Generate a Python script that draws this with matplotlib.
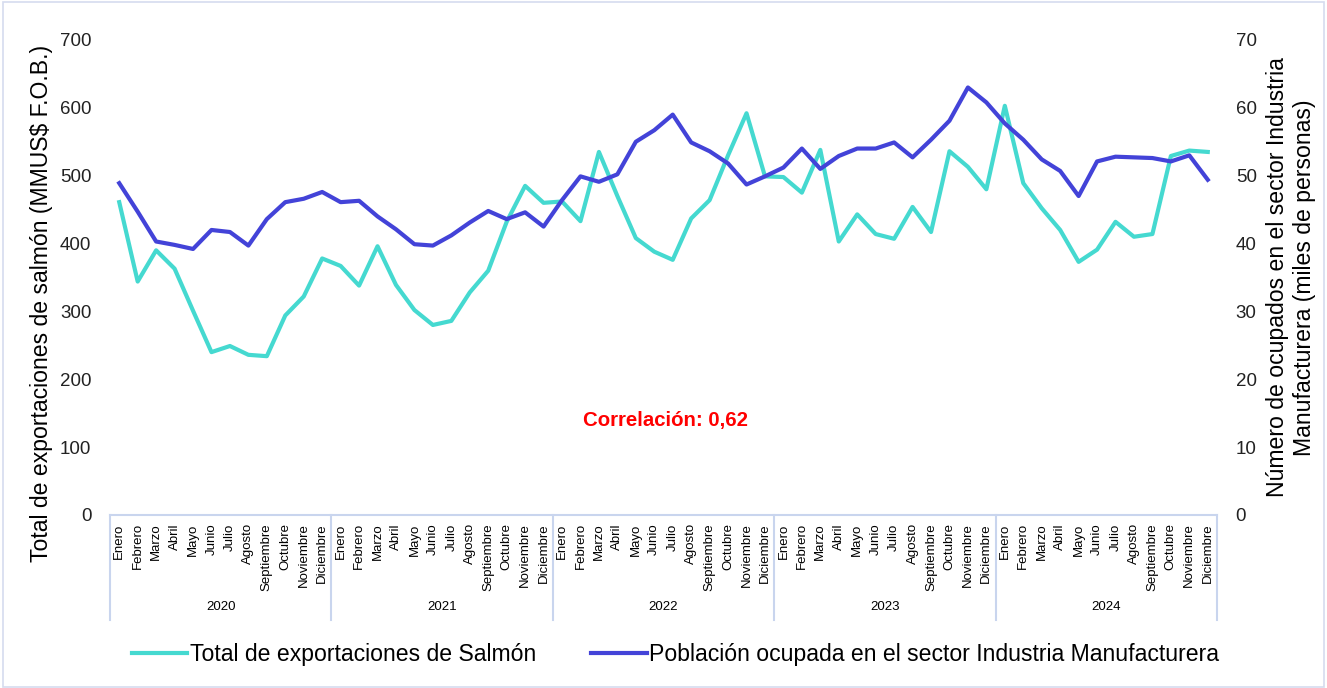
import numpy as np
import matplotlib.pyplot as plt
from matplotlib.patches import Rectangle

plt.rcParams['font.family'] = ['Liberation Sans', 'DejaVu Sans']

# Data
years = ['2020', '2021', '2022', '2023', '2024']
months = ['Enero', 'Febrero', 'Marzo', 'Abril', 'Mayo', 'Junio', 'Julio',
          'Agosto', 'Septiembre', 'Octubre', 'Noviembre', 'Diciembre']

# Total de exportaciones de Salmón (MMUS$ F.O.B.)
salmon = [461, 344, 390, 363, 301, 240, 249, 236, 234, 294, 322, 378,
          367, 338, 396, 339, 302, 280, 286, 328, 360, 432, 485, 460,
          462, 433, 535, 470, 408, 388, 376, 437, 464, 530, 592, 499,
          498, 475, 538, 403, 443, 414, 407, 454, 417, 536, 513, 480,
          603, 489, 452, 420, 373, 391, 432, 410, 414, 529, 537, 535]

# Población ocupada en Industria Manufacturera (miles de personas)
ocupados = [48.9, 44.7, 40.3, 39.8, 39.2, 42.0, 41.7, 39.7, 43.6, 46.1, 46.6, 47.6,
            46.1, 46.3, 44.0, 42.1, 39.9, 39.7, 41.2, 43.1, 44.8, 43.6, 44.6, 42.5,
            46.4, 49.9, 49.1, 50.2, 55.0, 56.7, 59.0, 54.9, 53.6, 51.8, 48.7, 49.9,
            51.2, 54.0, 51.0, 52.9, 54.0, 54.0, 54.9, 52.7, 55.3, 58.1, 63.0, 60.8,
            57.7, 55.3, 52.4, 50.7, 47.0, 52.1, 52.8, 52.7, 52.6, 52.1, 53.0, 49.4]

teal = '#45D9D0'
blue = '#4343D8'
sep_color = '#C9D5EE'

x = np.arange(len(salmon))
month_labels = months * len(years)

fig = plt.figure(figsize=(13.27, 6.88), dpi=100)
ax = fig.add_axes([0.0829, 0.2515, 0.8342, 0.6904])
ax2 = ax.twinx()

l1, = ax.plot(x, salmon, color=teal, lw=3, solid_joinstyle='round',
              label='Total de exportaciones de Salmón')
l2, = ax2.plot(x, ocupados, color=blue, lw=3, solid_joinstyle='round',
               label='Población ocupada en el sector Industria Manufacturera')

ax.set_xlim(-0.5, len(x) - 0.5)
ax.set_ylim(0, 700)
ax2.set_ylim(0, 70)
ax.set_yticks(range(0, 701, 100))
ax2.set_yticks(range(0, 71, 10))

for a in (ax, ax2):
    for s in a.spines.values():
        s.set_visible(False)
    a.tick_params(axis='y', length=0, labelsize=13.5, colors='#222222', pad=13.5)

ax.set_xticks(x)
ax.set_xticklabels(month_labels, rotation=90, fontsize=9.5, va='top')
ax.tick_params(axis='x', length=0, pad=6)

ax.set_ylabel('Total de exportaciones de salmón (MMUS\\$ F.O.B.)', fontsize=16.6)
ax.yaxis.set_label_coords(-0.0515, 0.446)
ax2.set_ylabel('Número de ocupados en el sector Industria\nManufacturera (miles de personas)',
               fontsize=16.6, labelpad=7)

# category axis box and year labels
depth = -0.221
ax.plot([0, 1], [0, 0], transform=ax.transAxes, color=sep_color, lw=1.5, clip_on=False)
trans = ax.get_xaxis_transform()
for i in range(len(years) + 1):
    xb = i * 12 - 0.5
    ax.plot([xb, xb], [0, depth], transform=trans, color=sep_color, lw=1.5, clip_on=False)
for i, yr in enumerate(years):
    ax.text(i * 12 + 5.5, -0.194, yr, transform=trans, ha='center', va='center', fontsize=9.5)

ax.text(0.502, 0.198, 'Correlación: 0,62', transform=ax.transAxes, color='red',
        fontsize=14.7, fontweight='bold', ha='center', va='center')

fig.legend(handles=[l1, l2], loc='center', bbox_to_anchor=(0.509, 0.048), ncol=2,
           frameon=False, fontsize=16.6, handlelength=2.4, columnspacing=2.4,
           handletextpad=0.1)

fig.patches.append(Rectangle((0.002, 0.002), 0.996, 0.995, transform=fig.transFigure,
                             fill=False, edgecolor='#D5DCEF', lw=1.2))

fig.savefig('out.png', dpi=100)
